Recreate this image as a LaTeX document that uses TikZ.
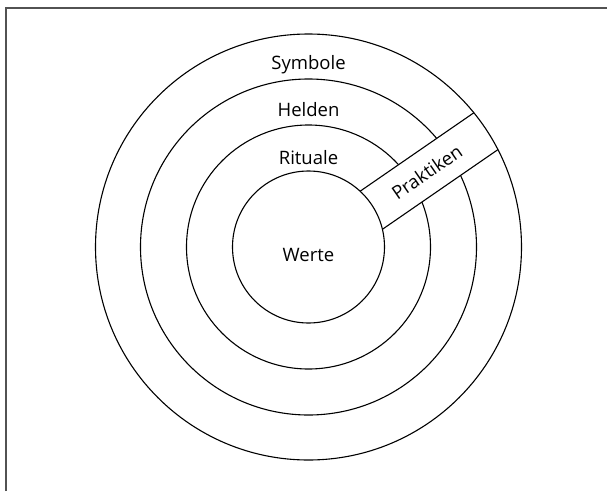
\documentclass[tikz,border=0pt]{standalone}
\usepackage{fontspec}
\setmainfont{Open Sans}
\usepackage{tikz}
\usetikzlibrary{calc}

\begin{document}
\begin{tikzpicture}[x=1pt, y=1pt,
	ring/.style={draw, circle, line width=1.1pt, inner sep=0pt},
	lbl/.style={font=\fontsize{18.5}{22}\selectfont, anchor=base},
	band/.style={draw, fill=white, line width=1.1pt, inner sep=0pt, font=\fontsize{18.5}{22}\selectfont}]
	\useasboundingbox (-308.5,-244) rectangle (298.5,247);
	% frame, only left and top
	\draw[line width=2pt, black!68] (-302,-244) -- (-302,239.5) -- (298.5,239.5);
	% rings
	\node[ring, minimum size=336] (helden) at (0,0) {};
	\node[ring, minimum size=244] (rituale) at (0,0) {};
	% the band for the practices, cut off at the outer ring
	\begin{scope}
		\clip (0,0) circle (213);
		\node[band, rotate=34.6, minimum width=160, minimum height=44] (praktiken)
			at ($(0,0)+(34.6:140)+(-55.4:5.4)$) {Praktiken};
	\end{scope}
	\node[ring, fill=white, minimum size=152] (werte) at (0,0) {};
	\node[ring, minimum size=426] (symbole) at (0,0) {};
	% labels
	\node[lbl] (tsymbole) at (0,178) {Symbole};
	\node[lbl] (thelden) at (0,131) {Helden};
	\node[lbl] (trituale) at (0,83) {Rituale};
	\node[lbl] (twerte) at (0,-14) {Werte};
\end{tikzpicture}
\end{document}
